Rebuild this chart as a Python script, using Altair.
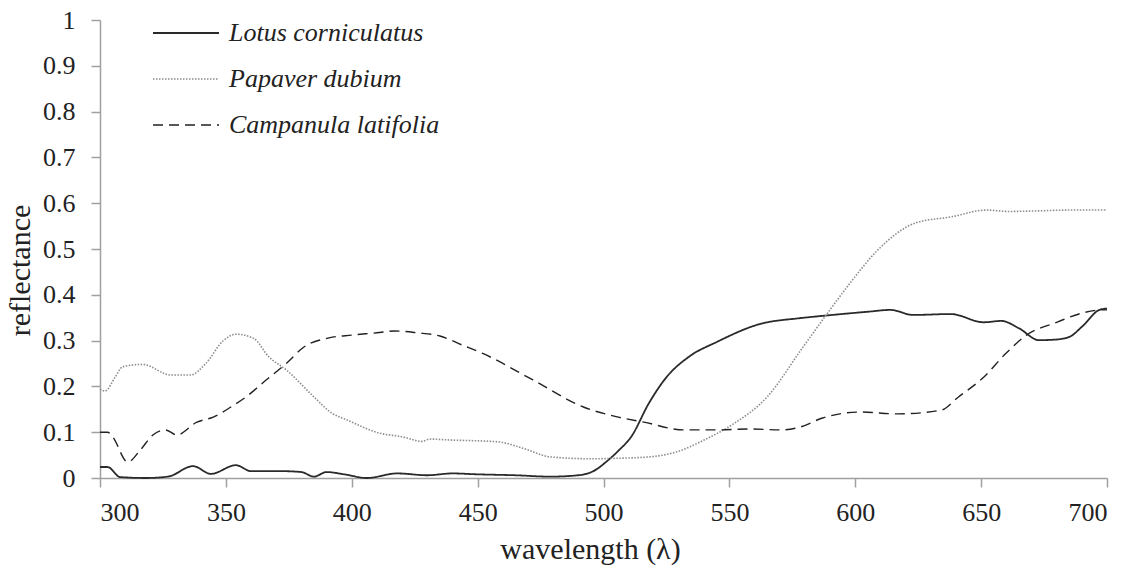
import altair as alt
import pandas as pd

series_names = ["Lotus corniculatus", "Papaver dubium", "Campanula latifolia"]

lotus_x = [300, 303, 308, 318, 327, 337, 344, 354, 360, 372, 380, 385, 390, 397, 406, 418, 430, 440, 450, 465,
           479, 490, 496, 501, 506, 511, 518, 525, 534, 545, 562, 578, 587, 605, 614, 623, 638, 651, 658, 665,
           673, 679, 685, 690, 697, 700]
lotus_y = [0.024, 0.024, 0.002, 0.0, 0.003, 0.026, 0.009, 0.028, 0.015, 0.015, 0.013, 0.003, 0.013, 0.008, 0.0,
           0.01, 0.006, 0.01, 0.008, 0.006, 0.003, 0.006, 0.015, 0.035, 0.06, 0.09, 0.163, 0.22, 0.265, 0.297,
           0.336, 0.349, 0.354, 0.363, 0.367, 0.356, 0.358, 0.34, 0.343, 0.327, 0.301, 0.302, 0.308, 0.33, 0.367, 0.37]

papaver_x = [300, 302, 306, 309, 317, 328, 336, 342, 349, 354, 361, 367, 374, 385, 392, 398, 411, 420, 428, 431,
             439, 458, 468, 479, 495, 505, 518, 529, 540, 551, 565, 579, 589, 598, 609, 624, 638, 652, 661, 671,
             685, 700]
papaver_y = [0.194, 0.19, 0.22, 0.243, 0.248, 0.225, 0.225, 0.25, 0.30, 0.314, 0.305, 0.265, 0.236, 0.177, 0.142,
             0.127, 0.098, 0.09, 0.08, 0.085, 0.083, 0.079, 0.065, 0.046, 0.042, 0.043, 0.046, 0.057, 0.083, 0.116,
             0.177, 0.284, 0.36, 0.426, 0.498, 0.557, 0.57, 0.585, 0.582, 0.583, 0.585, 0.585]

campanula_x = [300, 303, 305, 311, 316, 321, 326, 330.5, 338.5, 345, 352, 358, 366, 374, 381, 391, 400, 410, 417,
               426, 435, 444, 452, 472, 492, 505, 516, 532, 545, 558, 571, 578, 587, 602, 617, 634, 641, 651, 660,
               668, 680, 690, 698, 700]
campanula_y = [0.10, 0.10, 0.09, 0.035, 0.061, 0.094, 0.105, 0.094, 0.122, 0.133, 0.155, 0.177, 0.214, 0.25, 0.286,
               0.306, 0.312, 0.317, 0.321, 0.317, 0.31, 0.29, 0.272, 0.214, 0.155, 0.134, 0.122, 0.105, 0.105, 0.107,
               0.105, 0.111, 0.131, 0.144, 0.14, 0.148, 0.177, 0.22, 0.273, 0.312, 0.34, 0.36, 0.367, 0.367]

x_ticks = [300, 350, 400, 450, 500, 550, 600, 650, 700]
y_ticks = [0, 0.1, 0.2, 0.3, 0.4, 0.5, 0.6, 0.7, 0.8, 0.9, 1]

rows = []
for name, xs, ys in zip(series_names, [lotus_x, papaver_x, campanula_x], [lotus_y, papaver_y, campanula_y]):
    for i, (xv, yv) in enumerate(zip(xs, ys)):
        rows.append({"species": name, "wavelength": xv, "reflectance": yv, "order": i})
df = pd.DataFrame(rows)

FONT = "Liberation Serif"

legend_def = alt.Legend(
    title=None, orient="none", legendX=52, legendY=0,
    symbolType="stroke", symbolSize=4356, labelFont=FONT, labelFontSize=26,
    labelFontStyle="italic", labelColor="#222", labelOffset=9, rowPadding=20,
    clipHeight=26, labelLimit=0,
)

chart = alt.Chart(df).mark_line(interpolate="monotone").encode(
    x=alt.X("wavelength:Q", scale=alt.Scale(domain=[300, 700], nice=False, zero=False),
            axis=alt.Axis(values=x_ticks, title="wavelength (λ)", format="d",
                          titleX=490, titleY=80, titleBaseline="alphabetic", titleAlign="center")),
    y=alt.Y("reflectance:Q", scale=alt.Scale(domain=[0, 1], nice=False),
            axis=alt.Axis(values=y_ticks, title="reflectance", format=".1~f",
                          titleX=-80, titleY=250, titleBaseline="middle", titleAlign="center")),
    color=alt.Color("species:N", scale=alt.Scale(domain=series_names, range=["#2a2a2a", "#8c8c8c", "#222222"]),
                    legend=legend_def),
    strokeDash=alt.StrokeDash("species:N", scale=alt.Scale(domain=series_names, range=[[1, 0], [1.5, 1.5], [10, 6]]),
                              legend=legend_def),
    strokeWidth=alt.StrokeWidth("species:N", scale=alt.Scale(domain=series_names, range=[1.8, 1.4, 2.2]),
                                legend=legend_def),
    order="order:Q",
).properties(
    width=1007, height=458,
    autosize=alt.AutoSizeParams(type="none"),
    padding={"left": 100, "top": 20, "right": 28, "bottom": 87},
).configure_view(stroke=None).configure_axis(
    grid=False, domainColor="#a0a0a0", tickColor="#a0a0a0", domainWidth=1.5, tickWidth=1.5,
    labelFont=FONT, labelFontSize=26, labelColor="#222", titleFont=FONT, titleFontSize=30,
    titleColor="#222", titleFontWeight="normal", tickSize=9,
).configure_axisY(labelPadding=16).configure_axisX(labelPadding=12)

chart.save("out.html", embed_options={"renderer": "svg", "actions": False})
